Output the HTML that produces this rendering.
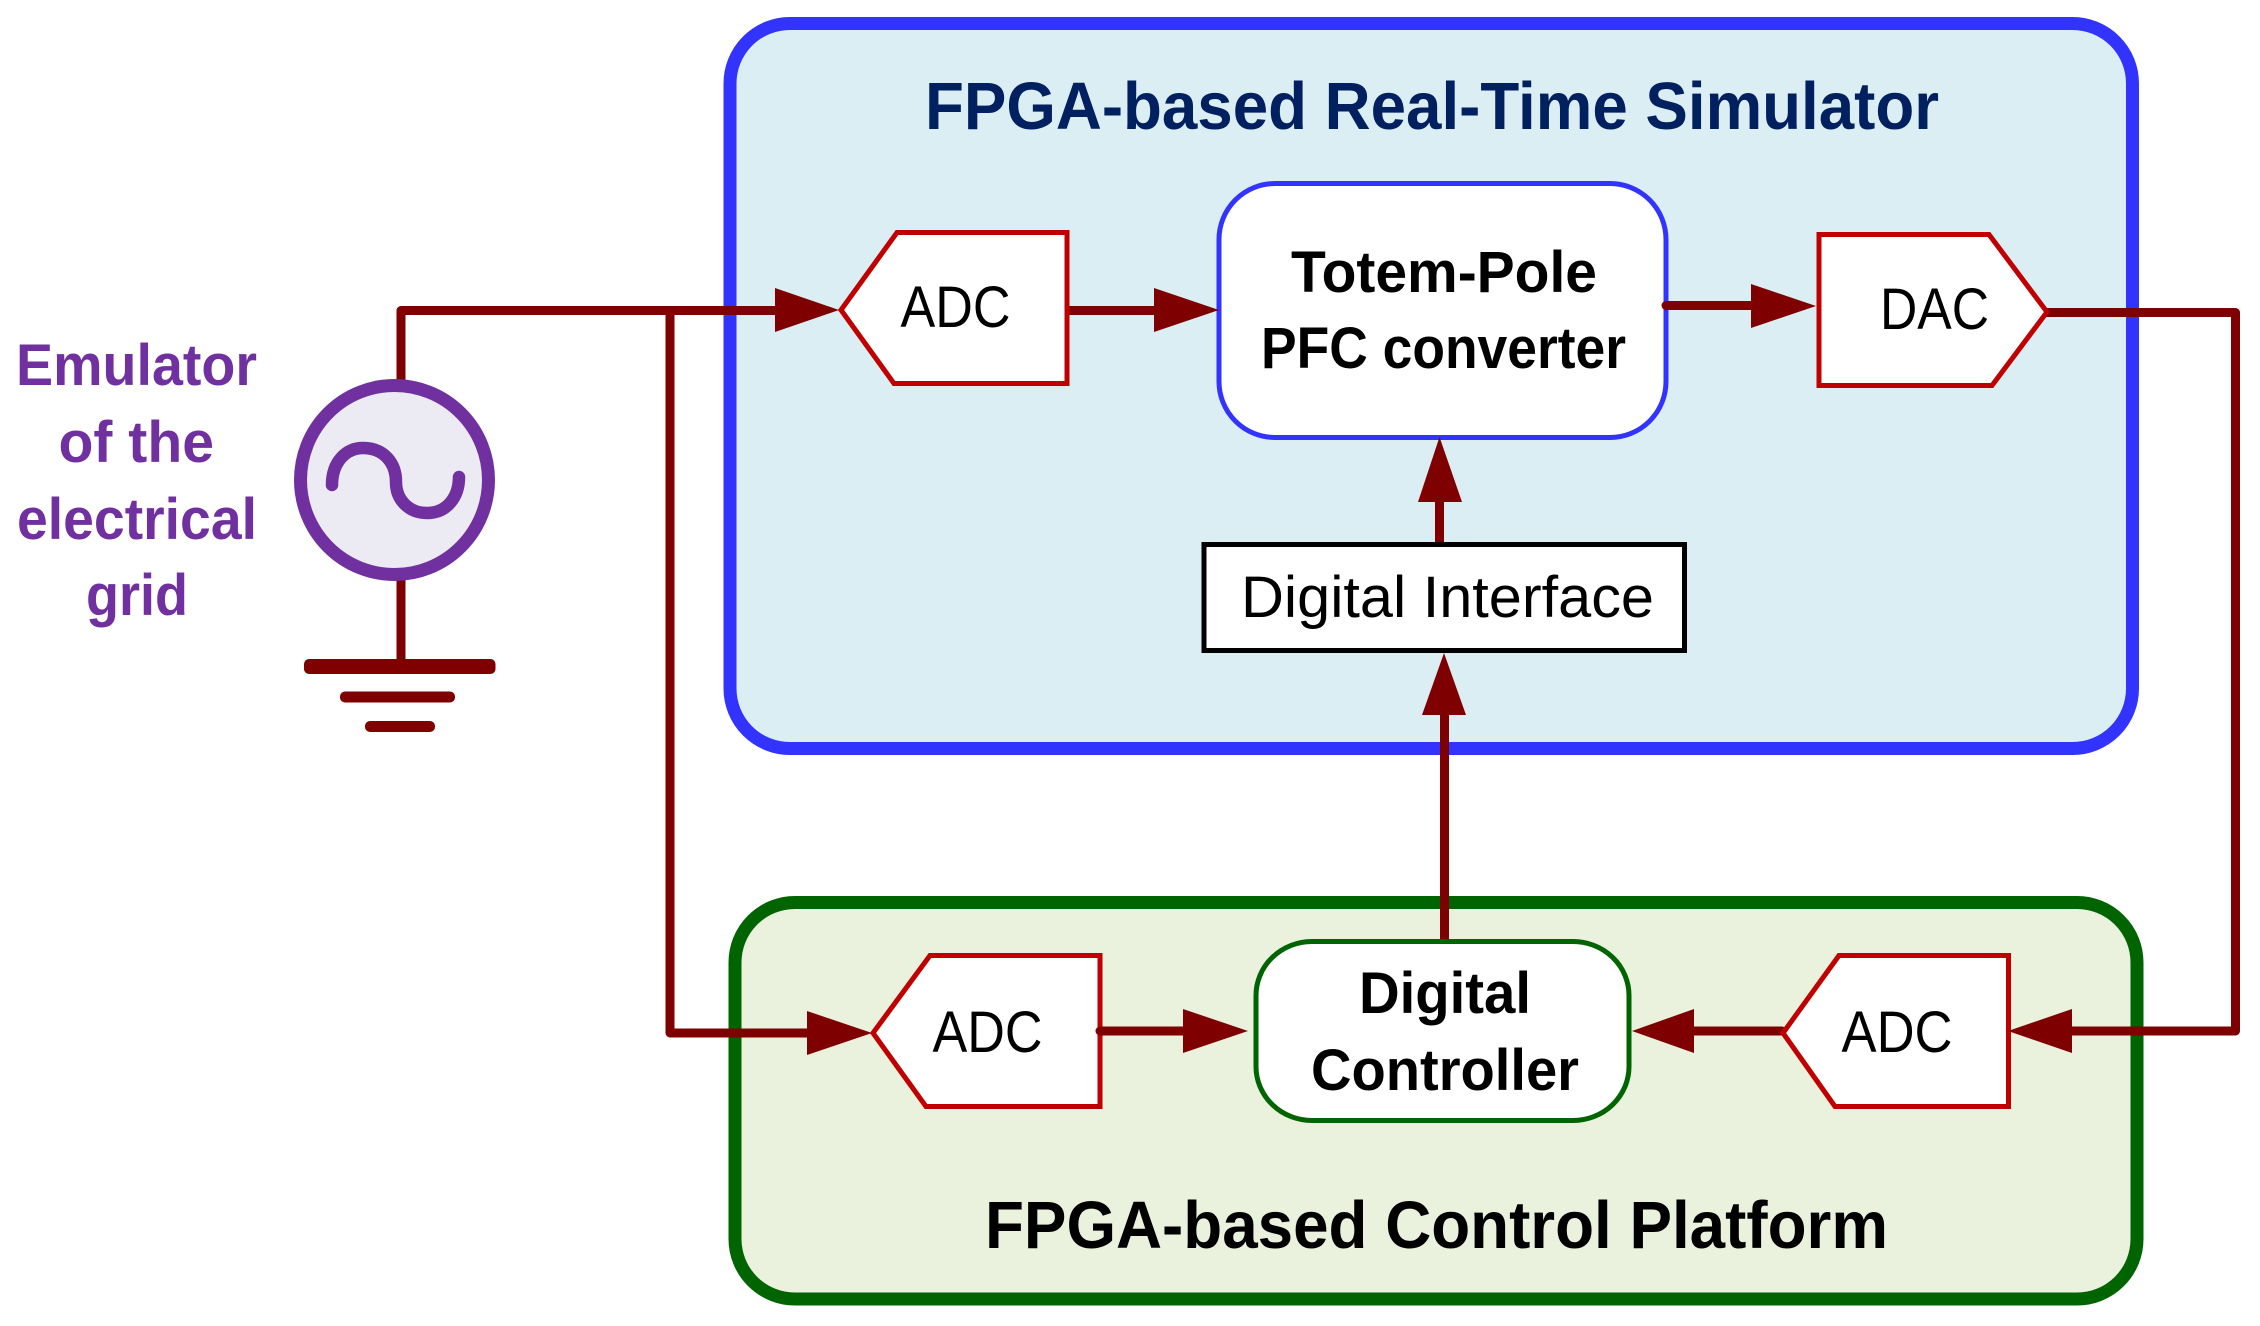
<!DOCTYPE html>
<html lang="en">
<head>
<meta charset="utf-8">
<title>FPGA-based Real-Time Simulator diagram</title>
<style>
html,body{margin:0;padding:0;background:#fff;width:2260px;height:1326px;overflow:hidden}
svg{display:block}
text{font-family:"Liberation Sans",sans-serif;font-size:58px;fill:#000}
.b{font-weight:700}
.t{font-size:67px}
.p{fill:#7030A0}
</style>
</head>
<body>
<svg width="2260" height="1326" viewBox="0 0 2260 1326" xmlns="http://www.w3.org/2000/svg">
  <!-- containers -->
  <rect x="730" y="23.5" width="1402.5" height="725" rx="60" ry="60" fill="#DAEEF3" stroke="#3333FF" stroke-width="13"/>
  <rect x="735" y="902.5" width="1402" height="396.5" rx="60" ry="60" fill="#EAF1DD" stroke="#006400" stroke-width="13"/>

  <!-- wires under blocks -->
  <g fill="none" stroke="#7F0000" stroke-width="9" stroke-linejoin="round" stroke-linecap="round">
    <path d="M401 380V310.5H780"/>
    <path d="M670 311V1033H812"/>
    <path d="M401 580V662"/>
    <path d="M1066 310.5H1160"/>
    <path d="M2046 312.5H2235.5V1031H2066"/>
    <path d="M1439.5 545V495"/>
    <path d="M1444.5 941V710"/>
    <path d="M1782 1031H1688"/>
  </g>

  <!-- blocks -->
  <g fill="#fff" stroke="#C00000" stroke-width="5" stroke-linejoin="miter">
    <polygon points="841,310 897,232.5 1067,232.5 1067,383.5 894,383.5"/>
    <polygon points="1819,234.5 1989,234.5 2047,312 1992,385.5 1819,385.5"/>
    <polygon points="873,1033 930,955.5 1100,955.5 1100,1106.5 926,1106.5"/>
    <polygon points="1783,1033 1839,955.5 2008.5,955.5 2008.5,1106.5 1835,1106.5"/>
  </g>
  <rect x="1219" y="183.5" width="447" height="254" rx="56" ry="56" fill="#fff" stroke="#3333FF" stroke-width="5"/>
  <rect x="1256" y="941.5" width="373" height="179" rx="56" ry="54" fill="#fff" stroke="#006400" stroke-width="5"/>
  <rect x="1204" y="544.5" width="480.5" height="106" fill="#fff" stroke="#000" stroke-width="5"/>

  <!-- wires that start on top of their source block -->
  <g fill="none" stroke="#7F0000" stroke-width="9" stroke-linecap="round">
    <path d="M1666 305.5H1756"/>
    <path d="M1100 1031H1188"/>
  </g>

  <!-- arrowheads -->
  <g fill="#7F0000">
    <polygon points="775,288 839,310 775,332"/>
    <polygon points="807,1011 872,1033 807,1055"/>
    <polygon points="1154,288 1219,310 1154,332"/>
    <polygon points="1751,284 1816,306 1751,328"/>
    <polygon points="1183,1009 1248,1031 1183,1053"/>
    <polygon points="1694,1009 1632,1031 1694,1053"/>
    <polygon points="2072,1009 2008,1031 2072,1053"/>
    <polygon points="1418,502 1439.5,437 1462,502"/>
    <polygon points="1422,715 1444,653 1466,715"/>
  </g>

  <!-- AC source -->
  <ellipse cx="394.5" cy="480" rx="94" ry="94.5" fill="#ECEAF2" stroke="#7030A0" stroke-width="13"/>
  <path d="M332 485C332 462 346 448 363 448C384 448 396 463 396 482C396 500 409 513 427 513C447 513 459 497 459 477" fill="none" stroke="#7030A0" stroke-width="12.5" stroke-linecap="round"/>

  <!-- ground -->
  <g fill="#7F0000">
    <rect x="304" y="659" width="191.5" height="15" rx="5"/>
    <rect x="340" y="691.5" width="115" height="11" rx="5"/>
    <rect x="365" y="721" width="70" height="11" rx="5"/>
  </g>

  <!-- labels -->
  <text class="b t" x="925" y="129" textLength="1014" lengthAdjust="spacingAndGlyphs" style="fill:#002060">FPGA-based Real-Time Simulator</text>
  <text class="b t" x="985" y="1248" textLength="903" lengthAdjust="spacingAndGlyphs">FPGA-based Control Platform</text>

  <text class="b" x="1291" y="292" textLength="306" lengthAdjust="spacingAndGlyphs">Totem-Pole</text>
  <text class="b" x="1261" y="368" textLength="365" lengthAdjust="spacingAndGlyphs">PFC converter</text>
  <text class="b" x="1359" y="1013" textLength="172" lengthAdjust="spacingAndGlyphs">Digital</text>
  <text class="b" x="1311" y="1090" textLength="268" lengthAdjust="spacingAndGlyphs">Controller</text>

  <text x="900.5" y="327" textLength="110" lengthAdjust="spacingAndGlyphs">ADC</text>
  <text x="1880" y="329" textLength="109" lengthAdjust="spacingAndGlyphs">DAC</text>
  <text x="932.5" y="1052" textLength="110" lengthAdjust="spacingAndGlyphs">ADC</text>
  <text x="1841.5" y="1052" textLength="111" lengthAdjust="spacingAndGlyphs">ADC</text>
  <text x="1241" y="617" textLength="413" lengthAdjust="spacingAndGlyphs">Digital Interface</text>

  <text class="b p" x="16" y="385" textLength="241" lengthAdjust="spacingAndGlyphs">Emulator</text>
  <text class="b p" x="58.5" y="462" textLength="155.5" lengthAdjust="spacingAndGlyphs">of the</text>
  <text class="b p" x="17" y="539" textLength="240" lengthAdjust="spacingAndGlyphs">electrical</text>
  <text class="b p" x="86" y="615" textLength="102" lengthAdjust="spacingAndGlyphs">grid</text>
</svg>
</body>
</html>
